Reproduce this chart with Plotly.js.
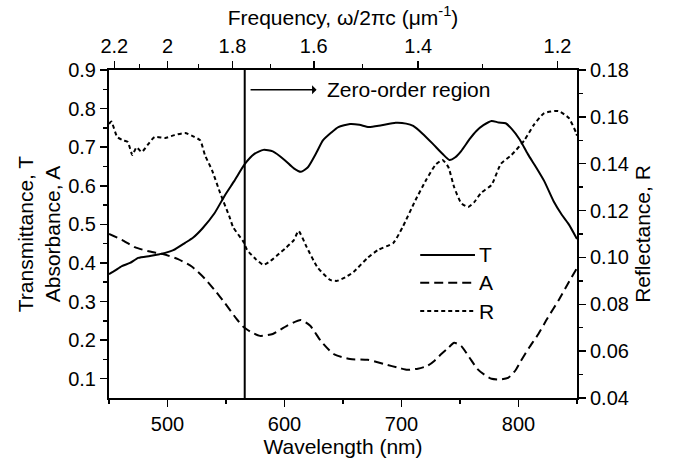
<!DOCTYPE html>
<html>
<head>
<meta charset="utf-8">
<script src="https://cdn.plot.ly/plotly-3.0.1.min.js"></script>
<style>html,body{margin:0;padding:0;background:#fff}#chart{width:678px;height:460px}</style>
</head>
<body>
<div id="chart"></div>
<script>
// Transmittance T (left axis)
var tWl  = [450,455,461,468,475,485,492,498,505,515,522,530,540,549,557,566,574,582,590,600,608,614,620,627,633,640,646,656,664,672,683,695,704,710,718,727,735,741,746,751,758,764,770,777,783,789,794,801,808,815,822,830,837,843,850];
var tVal = [0.371,0.38,0.392,0.40,0.413,0.418,0.422,0.426,0.433,0.452,0.466,0.49,0.528,0.575,0.612,0.656,0.682,0.693,0.689,0.667,0.645,0.636,0.648,0.684,0.718,0.738,0.752,0.76,0.758,0.752,0.757,0.763,0.761,0.755,0.735,0.708,0.683,0.667,0.674,0.69,0.72,0.742,0.757,0.768,0.764,0.762,0.748,0.72,0.682,0.648,0.612,0.56,0.525,0.5,0.462];
// Absorbance A (left axis)
var aWl  = [450,461,472,483,496,509,521,532,541,549,559,565,572,579,590,602,614,622,631,642,656,671,685,699,705,714,722,728,734,740,745,751,758,765,771,777,784,791,797,802,809,817,825,834,842,850];
var aVal = [0.475,0.46,0.441,0.431,0.423,0.41,0.39,0.359,0.327,0.296,0.255,0.234,0.22,0.211,0.216,0.237,0.252,0.237,0.198,0.164,0.151,0.149,0.138,0.127,0.123,0.126,0.133,0.146,0.164,0.18,0.193,0.185,0.155,0.125,0.11,0.1,0.098,0.102,0.12,0.146,0.18,0.216,0.258,0.302,0.345,0.387];
// Reflectance R (right axis)
var rWl  = [450,452,457,462,466,470,473.5,478,483,489,498,506,515,523,528,532,538,545,553,556,565,568,575,582,588,594,601,608,612,619,628,639,645,652,659,671,680,693,701,712,721,729,735,740,745,751,757,762,768,777,785,794,805,813,822,834,843,849,850];
var rVal = [0.157,0.158,0.1514,0.150,0.1493,0.1437,0.147,0.145,0.148,0.1514,0.151,0.1522,0.1531,0.1514,0.150,0.1437,0.1373,0.1275,0.1173,0.113,0.1066,0.1032,0.0995,0.0968,0.0985,0.101,0.104,0.1074,0.1113,0.1044,0.0959,0.0904,0.09,0.0915,0.0938,0.0998,0.1032,0.1062,0.113,0.1245,0.133,0.1395,0.1416,0.1386,0.13,0.1232,0.1215,0.1235,0.1275,0.131,0.140,0.1437,0.150,0.1565,0.1616,0.1625,0.1595,0.1535,0.152];

// Top axis: frequency ticks (µm^-1)
var freqTicks = [2.2, 2.0, 1.8, 1.6, 1.4, 1.2];
var freqLabels = ['2.2', '2', '1.8', '1.6', '1.4', '1.2'];
var freqMinor = [2.1, 1.9, 1.7, 1.5, 1.3];
// zero-order boundary wavelength (nm)
var zeroOrderWl = 566;

var FONT = 'Liberation Sans, Arial, Helvetica, sans-serif';
var FS = 20;   // tick labels
var TS = 21;   // titles and annotations

var traces = [
  {x: tWl, y: tVal, name: 'T', type: 'scatter', mode: 'lines', xaxis: 'x', yaxis: 'y',
   line: {color: '#000', width: 2, shape: 'spline', smoothing: 0.6}, showlegend: false},
  {x: aWl, y: aVal, name: 'A', type: 'scatter', mode: 'lines', xaxis: 'x', yaxis: 'y',
   line: {color: '#000', width: 2, dash: '9px,5px', shape: 'spline', smoothing: 0.6}, showlegend: false},
  {x: rWl, y: rVal, name: 'R', type: 'scatter', mode: 'lines', xaxis: 'x2', yaxis: 'y2',
   line: {color: '#000', width: 2, dash: '4px,3px', shape: 'spline', smoothing: 0.5}, showlegend: false}
];

var axCommon = {
  showline: true, linecolor: '#000', linewidth: 2, ticks: 'outside', ticklen: 7,
  tickwidth: 1.5, tickcolor: '#000', showgrid: false, zeroline: false,
  tickfont: {family: FONT, size: FS, color: '#000'}
};
function ax(o) { var r = {}; for (var k in axCommon) r[k] = axCommon[k]; for (var k2 in o) r[k2] = o[k2]; return r; }

var legY = [0.436, 0.351, 0.265];
var legDash = ['solid', '9px,5px', '4px,3px'];
var legName = ['T', 'A', 'R'];
var shapes = [
  {type: 'line', xref: 'x', yref: 'paper', x0: zeroOrderWl, x1: zeroOrderWl, y0: 0, y1: 1,
   line: {color: '#000', width: 2}}
];
var annotations = [
  {xref: 'x', yref: 'paper', x: 571, y: 0.94, ax: 158, ay: 0, axref: 'pixel', ayref: 'pixel',
   text: 'Zero-order region', showarrow: true, arrowside: 'start', arrowhead: 1, arrowsize: 0.9,
   arrowwidth: 1.5, arrowcolor: '#000', startstandoff: 9,
   font: {family: FONT, size: TS, color: '#000'}}
];
for (var i = 0; i < 3; i++) {
  shapes.push({type: 'line', xref: 'paper', yref: 'paper', x0: 0.665, x1: 0.782, y0: legY[i], y1: legY[i],
    line: {color: '#000', width: 2, dash: legDash[i]}});
  annotations.push({xref: 'paper', yref: 'paper', x: 0.787, y: legY[i], text: legName[i], showarrow: false,
    xanchor: 'left', yanchor: 'middle', font: {family: FONT, size: TS, color: '#000'}});
}

var layout = {
  width: 678, height: 460,
  margin: {l: 109, r: 101, t: 70, b: 62, pad: 0},
  paper_bgcolor: '#fff', plot_bgcolor: '#fff',
  font: {family: FONT, size: FS, color: '#000'},
  showlegend: false,
  xaxis: ax({range: [450, 850], tickvals: [500, 600, 700, 800], ticktext: ['500','600','700','800'],
    minor: {tickvals: [450, 550, 650, 750, 850], ticklen: 4, tickwidth: 1.5, tickcolor: '#000', ticks: 'outside'},
    title: {text: 'Wavelength (nm)', standoff: 0, font: {family: FONT, size: TS}}}),
  xaxis2: ax({range: [450, 850], overlaying: 'x', side: 'top', anchor: 'y2',
    tickmode: 'array', tickvals: freqTicks.map(function (f) { return 1000 / f; }), ticktext: freqLabels,
    minor: {tickmode: 'array', tickvals: freqMinor.map(function (f) { return 1000 / f; }), ticklen: 4, tickwidth: 1.5, tickcolor: '#000', ticks: 'outside'},
    title: {text: 'Frequency, ω/2πc (μm<sup>-1</sup>)', standoff: 4, font: {family: FONT, size: TS}}}),
  yaxis: ax({range: [0.05, 0.9], tickvals: [0.1,0.2,0.3,0.4,0.5,0.6,0.7,0.8,0.9], tickformat: '.1f',
    minor: {tickvals: [0.15,0.25,0.35,0.45,0.55,0.65,0.75,0.85], ticklen: 4, tickwidth: 1.5, tickcolor: '#000', ticks: 'outside'},
    title: {text: 'Transmittance, T<br>Absorbance, A', standoff: 2, font: {family: FONT, size: TS}}}),
  yaxis2: ax({range: [0.04, 0.18], overlaying: 'y', side: 'right', anchor: 'x2',
    tickvals: [0.04,0.06,0.08,0.10,0.12,0.14,0.16,0.18], tickformat: '.2f',
    minor: {tickvals: [0.05,0.07,0.09,0.11,0.13,0.15,0.17], ticklen: 4, tickwidth: 1.5, tickcolor: '#000', ticks: 'outside'},
    title: {text: 'Reflectance, R', standoff: 7, font: {family: FONT, size: TS}}}),
  shapes: shapes,
  annotations: annotations
};

Plotly.newPlot('chart', traces, layout, {displayModeBar: false, staticPlot: true});
</script>
</body>
</html>
